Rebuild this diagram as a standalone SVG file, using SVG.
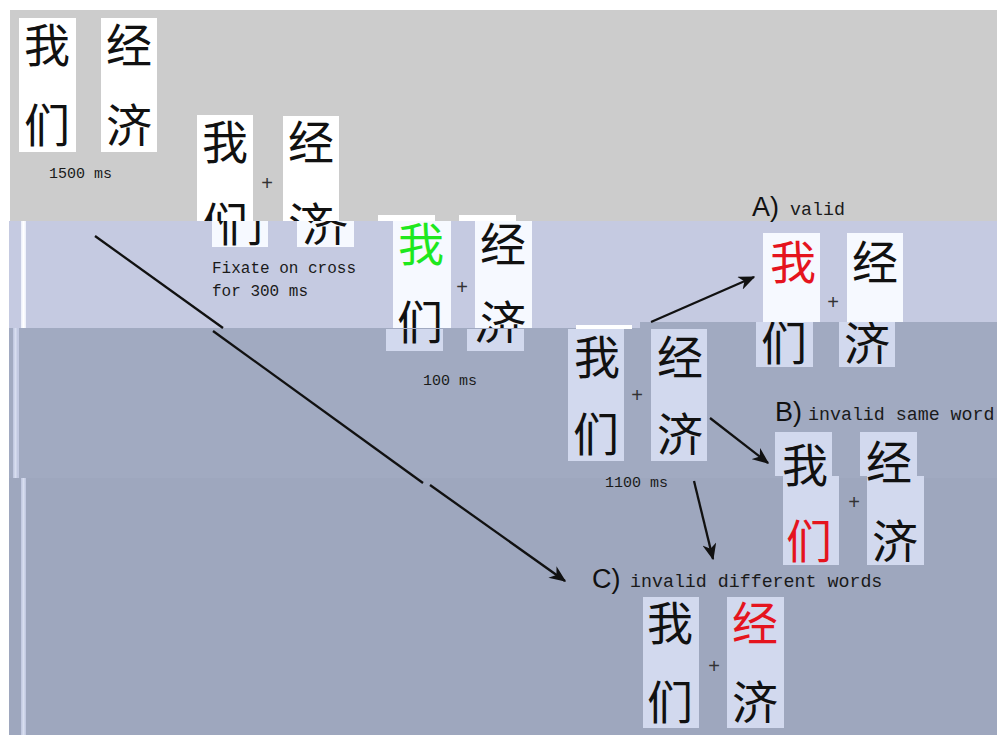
<svg xmlns="http://www.w3.org/2000/svg" width="997" height="735" viewBox="0 0 997 735">
<style>
.cj{font-family:"Noto Sans CJK SC","Noto Sans",sans-serif;font-size:46px;fill:#111;text-anchor:middle}
.red{fill:#e5141e}
.grn{fill:#1ee81e}
.pl{font-family:"Liberation Sans",Arial,sans-serif;font-size:20px;fill:#333;text-anchor:middle}
.mono{font-family:"Liberation Mono","DejaVu Sans Mono",monospace;font-size:15px;fill:#1a1a1a}
.fx{font-size:16px}
.lab{font-family:"Liberation Sans",Arial,sans-serif;font-size:27px;fill:#111}
.ml{font-family:"Liberation Mono","DejaVu Sans Mono",monospace;font-size:18.3px;fill:#1a1a1a}
.bw{fill:#ffffff}
.bl{fill:#f6f9ff}
.bd{fill:#d2d9ee}
.conn{stroke:#111;stroke-width:2.3;fill:none}
</style>
<defs>
<marker id="ah" viewBox="0 0 12 10" refX="11" refY="5" markerUnits="userSpaceOnUse" markerWidth="17" markerHeight="14" orient="auto">
<path d="M0,0 L12,5 L0,10 L3.5,5 z" fill="#111"/>
</marker>
<clipPath id="cGray"><rect x="0" y="0" width="997" height="221"/></clipPath>
<clipPath id="cLav"><rect x="0" y="221" width="997" height="107"/></clipPath>
<clipPath id="cLow3"><rect x="0" y="329" width="997" height="406"/></clipPath>
<clipPath id="cLavA"><rect x="0" y="221" width="997" height="101"/></clipPath>
<clipPath id="cLowA"><rect x="0" y="322" width="997" height="413"/></clipPath>
</defs>

<g id="background">
<rect x="0" y="0" width="997" height="735" fill="#ffffff"/>
<rect x="10" y="10" width="987" height="211" fill="#cccccc"/>
<rect x="9" y="221" width="631" height="107" fill="#c5cae1"/>
<rect x="640" y="221" width="357" height="101" fill="#c5cae1"/>
<rect x="9" y="328" width="631" height="150" fill="#a1aac1"/>
<rect x="640" y="322" width="357" height="156" fill="#a1aac1"/>
<rect x="9" y="478" width="988" height="257" fill="#9ea7be"/>
<rect x="21" y="221" width="5" height="107" fill="#eef1fb"/>
<rect x="22.5" y="221" width="2" height="107" fill="#ffffff"/>
<rect x="13" y="328" width="6" height="150" fill="#c3cae2"/>
<rect x="14.5" y="328" width="2" height="150" fill="#d8def0"/>
<rect x="21" y="478" width="5" height="257" fill="#c3cae2"/>
<rect x="22.5" y="478" width="2" height="257" fill="#d8def0"/>
</g>

<g id="panel-1">
<rect class="bw" x="19" y="18" width="57" height="134"/>
<rect class="bw" x="101" y="18" width="56" height="134"/>
<text class="cj" x="47" y="62">我</text>
<text class="cj" x="47" y="142">们</text>
<text class="cj" x="129" y="62">经</text>
<text class="cj" x="129" y="142">济</text>
<text class="mono" x="49" y="178">1500 ms</text>
</g>

<g id="panel-2">
<g clip-path="url(#cGray)">
<rect class="bw" x="197" y="115" width="56" height="106"/>
<rect class="bw" x="283" y="116" width="56" height="105"/>
<text class="cj" x="225" y="159">我</text>
<text class="cj" x="311" y="159">经</text>
<text class="cj" x="225" y="241">们</text>
<text class="cj" x="311" y="241">济</text>
<text class="pl" x="267" y="190">+</text>
</g>
<g clip-path="url(#cLav)">
<rect class="bl" x="212" y="221" width="56" height="26"/>
<rect class="bl" x="297" y="221" width="57" height="26"/>
<text class="cj" x="240" y="241">们</text>
<text class="cj" x="325" y="241">济</text>
</g>
<text class="mono fx" x="212" y="273">Fixate on cross</text>
<text class="mono fx" x="212" y="296">for 300 ms</text>
</g>

<g id="panel-3">
<rect class="bw" x="378" y="215" width="57" height="6"/>
<rect class="bw" x="459" y="215" width="57" height="6"/>
<g clip-path="url(#cLav)">
<rect class="bl" x="393" y="221" width="58" height="108"/>
<rect class="bl" x="475" y="221" width="57" height="108"/>
<text class="cj grn" x="421" y="261">我</text>
<text class="cj" x="503" y="261">经</text>
<text class="cj" x="420" y="339">们</text>
<text class="cj" x="503" y="339">济</text>
<text class="pl" x="462" y="294">+</text>
</g>
<g clip-path="url(#cLow3)">
<rect class="bd" x="386" y="328" width="57" height="23"/>
<rect class="bd" x="467" y="328" width="57" height="23"/>
<text class="cj" x="420" y="339">们</text>
<text class="cj" x="497" y="339">济</text>
</g>
<text class="mono" x="423" y="385">100 ms</text>
</g>

<g id="panel-4">
<rect class="bw" x="576" y="325" width="56" height="4"/>
<rect class="bd" x="568" y="329" width="56" height="132"/>
<rect class="bd" x="651" y="329" width="56" height="132"/>
<text class="cj" x="597" y="374">我</text>
<text class="cj" x="680" y="374">经</text>
<text class="cj" x="596" y="451">们</text>
<text class="cj" x="680" y="451">济</text>
<text class="pl" x="637" y="402">+</text>
<text class="mono" x="605" y="487">1100 ms</text>
</g>

<g id="panel-A">
<text class="lab" x="752" y="216">A)</text>
<text class="ml" x="790" y="215">valid</text>
<g clip-path="url(#cLavA)">
<rect class="bl" x="763" y="233" width="57" height="89"/>
<rect class="bl" x="847" y="233" width="56" height="89"/>
<text class="cj red" x="793" y="279">我</text>
<text class="cj" x="875" y="279">经</text>
<text class="pl" x="833" y="309">+</text>
</g>
<g clip-path="url(#cLowA)">
<rect class="bd" x="756" y="322" width="57" height="45"/>
<rect class="bd" x="839" y="322" width="56" height="45"/>
<text class="cj" x="784" y="360">们</text>
<text class="cj" x="867" y="360">济</text>
</g>
</g>

<g id="panel-B">
<text class="lab" x="775" y="421">B)</text>
<text class="ml" x="808" y="420">invalid same word</text>
<rect class="bd" x="775" y="432" width="57" height="44"/>
<rect class="bd" x="860" y="432" width="57" height="44"/>
<rect class="bd" x="783" y="476" width="56" height="89"/>
<rect class="bd" x="867" y="476" width="57" height="89"/>
<text class="cj" x="805" y="482">我</text>
<text class="cj" x="889" y="479">经</text>
<text class="cj red" x="809" y="558">们</text>
<text class="cj" x="895" y="558">济</text>
<text class="pl" x="854" y="509">+</text>
</g>

<g id="panel-C">
<text class="lab" x="592" y="588">C)</text>
<text class="ml" x="630" y="587">invalid different words</text>
<rect class="bd" x="643" y="597" width="56" height="131"/>
<rect class="bd" x="727" y="597" width="57" height="131"/>
<text class="cj" x="670" y="640">我</text>
<text class="cj" x="670" y="719">们</text>
<text class="cj red" x="755" y="640">经</text>
<text class="cj" x="755" y="719">济</text>
<text class="pl" x="714" y="673">+</text>
</g>

<g id="connectors">
<path class="conn" d="M95,236 L223,328"/>
<path class="conn" d="M213,331 L423,483"/>
<path class="conn" d="M430,485 L565,581" marker-end="url(#ah)"/>
<path class="conn" d="M651,322 L754,277" marker-end="url(#ah)"/>
<path class="conn" d="M710,418 L768,463" marker-end="url(#ah)"/>
<path class="conn" d="M694,481 L713,559" marker-end="url(#ah)"/>
</g>
</svg>
